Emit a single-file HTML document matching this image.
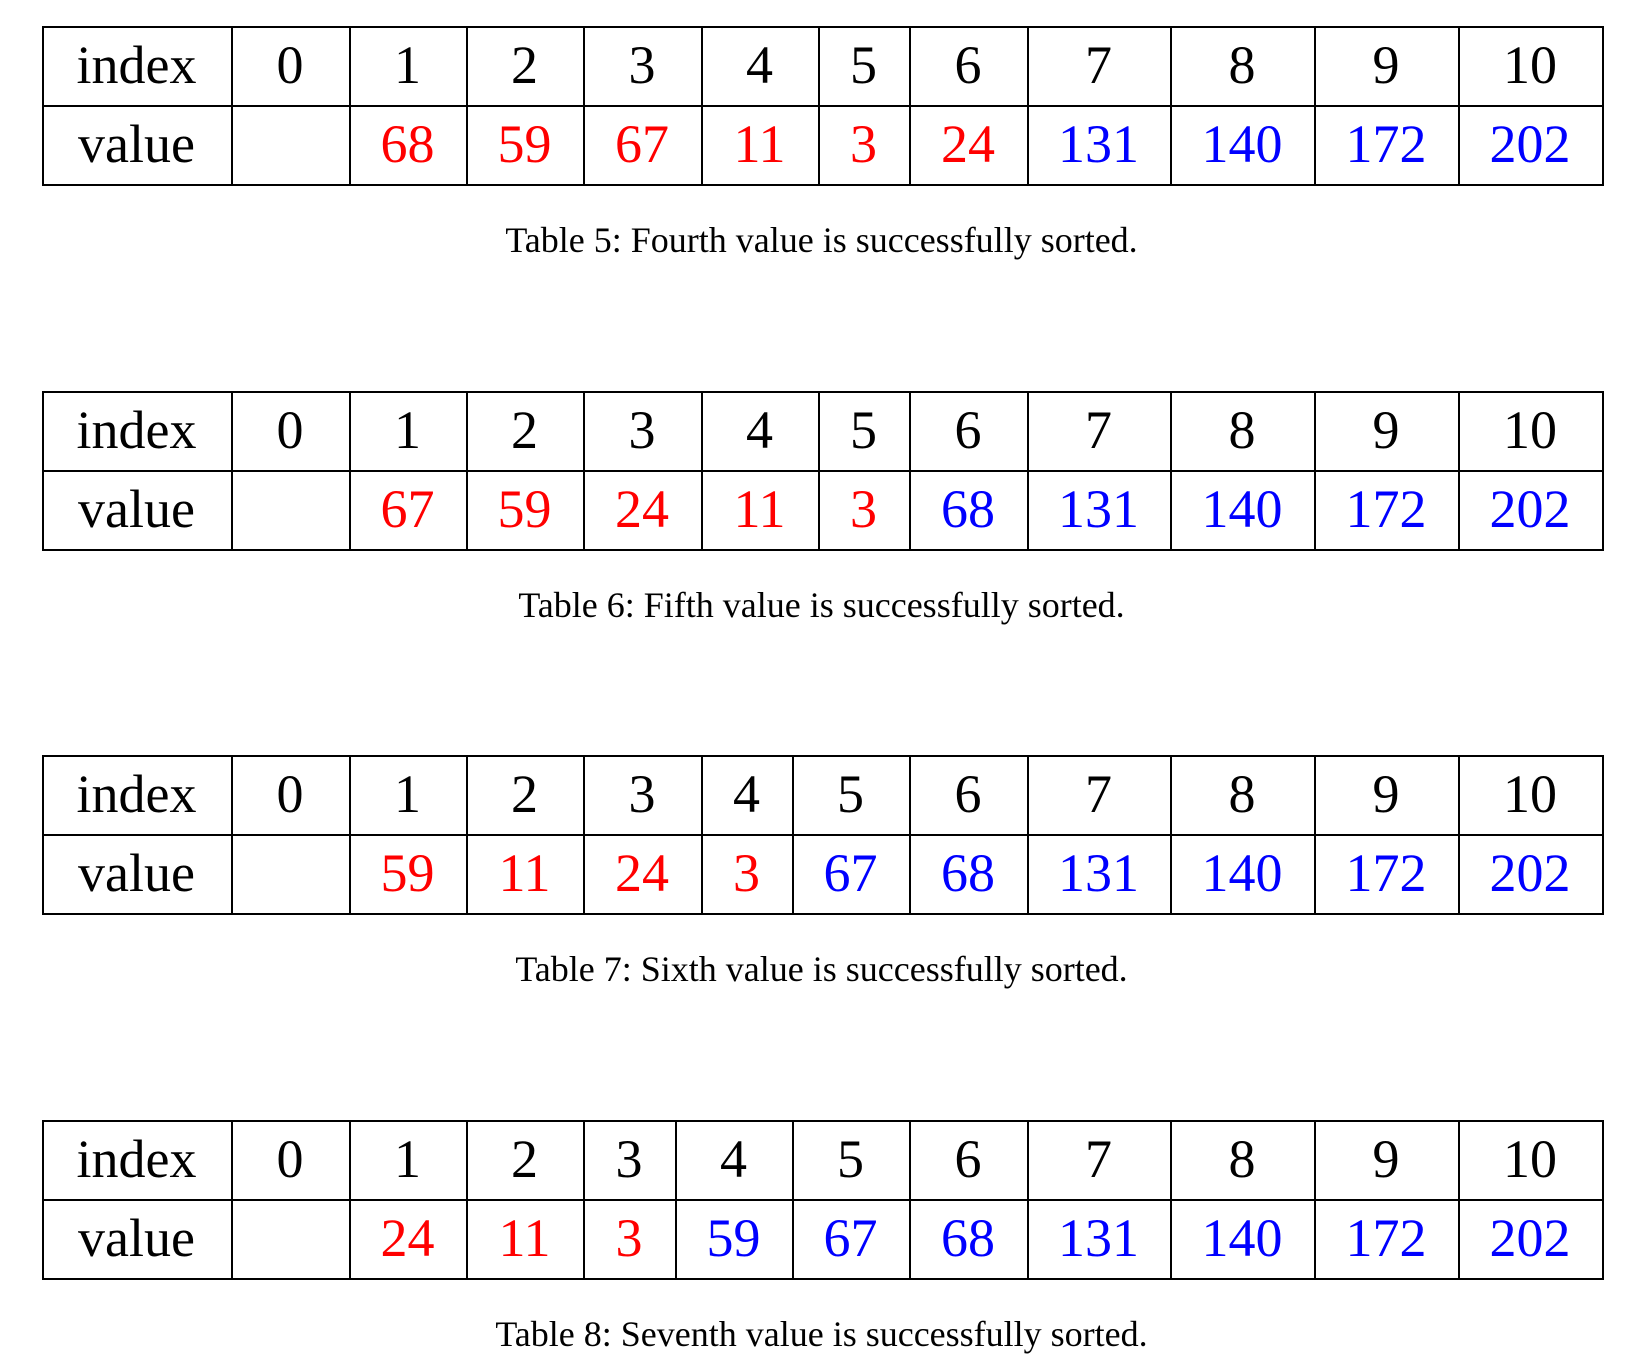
<!DOCTYPE html>
<html><head><meta charset="utf-8"><style>
body{margin:0;width:1643px;height:1358px;background:#fff;position:relative;overflow:hidden;font-family:"Liberation Serif","DejaVu Serif",serif}
.h{position:absolute;background:#000;height:2px}
.v{position:absolute;background:#000;width:2px}
.c{position:absolute;text-align:center;font-size:54px;line-height:79px}
.cap{position:absolute;left:0;width:1643px;text-align:center;font-size:36px}
</style></head><body>
<script>
const indices=[0,1,2,3,4,5,6,7,8,9,10];
const tableValues=[[68,59,67,11,3,24,131,140,172,202],[67,59,24,11,3,68,131,140,172,202],[59,11,24,3,67,68,131,140,172,202],[24,11,3,59,67,68,131,140,172,202]];
const sortedFrom=[7,6,5,4];
const captions=["Table 5: Fourth value is successfully sorted.","Table 6: Fifth value is successfully sorted.","Table 7: Sixth value is successfully sorted.","Table 8: Seventh value is successfully sorted."];
const baseCols=[42,231,349,466,583,701,818,909,1027,1170,1314,1458,1602];
const colVariants=[[701,818,909],[701,792,909],[675,792,909]];
const variantIdx=[0,0,1,2];
const top0=26,step=364.7,rowH=79;
tableValues.forEach((vals,t)=>{
  const cols=baseCols.slice();
  const cv=colVariants[variantIdx[t]];cols[5]=cv[0];cols[6]=cv[1];cols[7]=cv[2];
  const y0=top0+t*step;
  const tb=document.createElement('div');
  
  
  document.body.appendChild(tb);
  [0,1,2].forEach(r=>{const l=document.createElement('div');l.className='h';
    
    
    l.style.left=cols[0]+'px';l.style.width=(cols[12]-cols[0]+2)+'px';l.style.top=(y0+r*rowH)+'px';tb.appendChild(l);});
  cols.forEach(x=>{const l=document.createElement('div');l.className='v';
    
    
    l.style.left=x+'px';l.style.top=y0+'px';l.style.height=(2*rowH+2)+'px';tb.appendChild(l);});
  const cell=(txt,ci,r,color,name)=>{const d=document.createElement('div');d.className='c';
    
    
    d.style.left=cols[ci]+'px';d.style.width=(cols[ci+1]-cols[ci])+'px';d.style.top=(y0+r*rowH)+'px';d.style.color=color;d.textContent=txt;tb.appendChild(d);};
  cell('index',0,0,'#000','index-header');
  cell('value',0,1,'#000','value-header');
  indices.forEach((ix,i)=>cell(String(ix),i+1,0,'#000','index-cell'));
  vals.forEach((v,i)=>cell(String(v),i+2,1,(i+1)>=sortedFrom[t]?'#0000ff':'#ff0000','value-cell'));
  const c=document.createElement('div');c.className='cap';
  
  
  c.style.top=(y0+193)+'px';c.textContent=captions[t];tb.appendChild(c);
});
</script>
</body></html>
